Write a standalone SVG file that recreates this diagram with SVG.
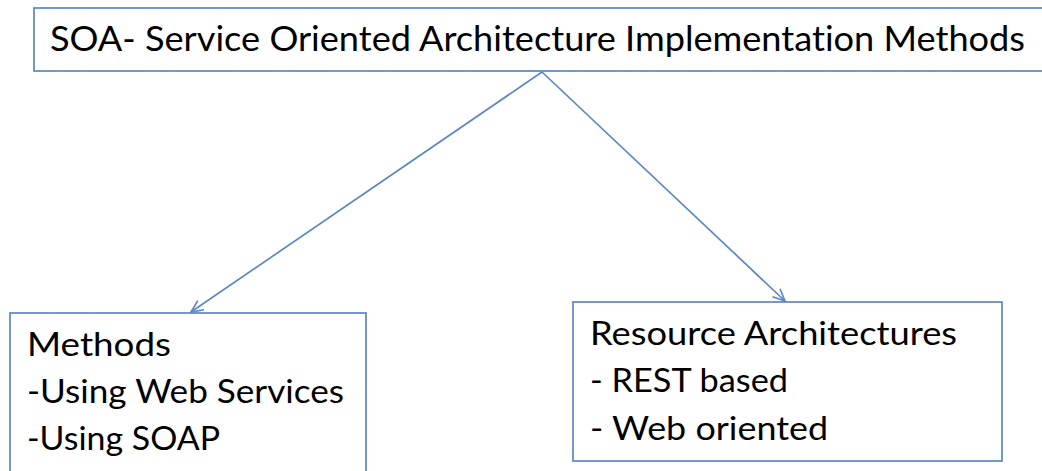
<svg xmlns="http://www.w3.org/2000/svg" width="1042" height="471" viewBox="0 0 1042 471">
<defs>
<style>
.box{fill:#fff;stroke:#5b87c6;stroke-width:1.7}
.t{font-family:Lato,"Open Sans","Liberation Sans",sans-serif;fill:#000;font-variant-ligatures:none}
.edge{stroke:#5b87c6;stroke-width:1.7;fill:none}
</style>
<marker id="arr" viewBox="0 0 14 14" refX="13" refY="7" markerWidth="14" markerHeight="14" markerUnits="userSpaceOnUse" orient="auto">
<path d="M1,1.5 L13,7 L1,12.5" fill="none" stroke="#5b87c6" stroke-width="1.7"/>
</marker>
</defs>
<rect width="1042" height="471" fill="#fff"/>
<g id="node-root">
<rect class="box" x="34" y="8" width="1020" height="63"/>
<text class="t" x="50" y="51" font-size="35" textLength="975" lengthAdjust="spacingAndGlyphs">SOA- Service Oriented Architecture Implementation Methods</text>
</g>
<g id="node-methods">
<rect class="box" x="10" y="313" width="356" height="170"/>
<text class="t" x="27" y="356" font-size="32" textLength="144" lengthAdjust="spacingAndGlyphs">Methods</text>
<text class="t" x="27" y="403" font-size="32" textLength="317" lengthAdjust="spacingAndGlyphs">-Using Web Services</text>
<text class="t" x="27" y="450" font-size="32" textLength="193" lengthAdjust="spacingAndGlyphs">-Using SOAP</text>
</g>
<g id="node-resource">
<rect class="box" x="573" y="302" width="429" height="159"/>
<text class="t" x="590" y="345" font-size="32" textLength="367" lengthAdjust="spacingAndGlyphs">Resource Architectures</text>
<text class="t" x="590" y="392" font-size="32" textLength="198" lengthAdjust="spacingAndGlyphs">- REST based</text>
<text class="t" x="590" y="440" font-size="32" textLength="238" lengthAdjust="spacingAndGlyphs">- Web oriented</text>
</g>
<g id="connectors">
<line class="edge" x1="542" y1="72" x2="191" y2="312" marker-end="url(#arr)"/>
<line class="edge" x1="542" y1="72" x2="785" y2="301" marker-end="url(#arr)"/>
</g>
</svg>
